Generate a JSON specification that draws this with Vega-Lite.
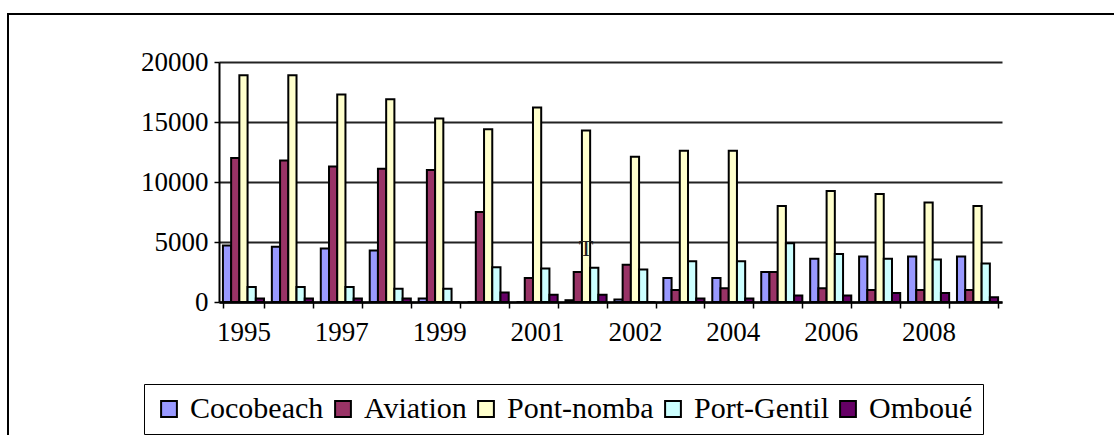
{
  "$schema": "https://vega.github.io/schema/vega-lite/v6.json",
  "autosize": "none",
  "width": 1110,
  "height": 425,
  "padding": {"left": 8, "top": 14, "right": 0, "bottom": 0},
  "background": "white",
  "config": {
    "view": {"stroke": "black", "strokeWidth": 2},
    "font": "Liberation Serif, Times New Roman, serif",
    "legend": {"labelFont": "Liberation Serif, Times New Roman, serif", "labelFontSize": 30, "labelColor": "black", "labelFontWeight": "normal"},
    "axis": {"labelFont": "Liberation Serif, Times New Roman, serif"},
    "text": {"font": "Liberation Serif, Times New Roman, serif"}
  },
  "datasets": {
    "bars": [
      {"year": "1995", "station": "Cocobeach", "value": 4700},
      {"year": "1995", "station": "Aviation", "value": 12000},
      {"year": "1995", "station": "Pont-nomba", "value": 18900},
      {"year": "1995", "station": "Port-Gentil", "value": 1250},
      {"year": "1995", "station": "Omboué", "value": 300},
      {"year": "1996", "station": "Cocobeach", "value": 4600},
      {"year": "1996", "station": "Aviation", "value": 11800},
      {"year": "1996", "station": "Pont-nomba", "value": 18900},
      {"year": "1996", "station": "Port-Gentil", "value": 1250},
      {"year": "1996", "station": "Omboué", "value": 300},
      {"year": "1997", "station": "Cocobeach", "value": 4450},
      {"year": "1997", "station": "Aviation", "value": 11300},
      {"year": "1997", "station": "Pont-nomba", "value": 17300},
      {"year": "1997", "station": "Port-Gentil", "value": 1250},
      {"year": "1997", "station": "Omboué", "value": 300},
      {"year": "1998", "station": "Cocobeach", "value": 4300},
      {"year": "1998", "station": "Aviation", "value": 11100},
      {"year": "1998", "station": "Pont-nomba", "value": 16900},
      {"year": "1998", "station": "Port-Gentil", "value": 1100},
      {"year": "1998", "station": "Omboué", "value": 300},
      {"year": "1999", "station": "Cocobeach", "value": 300},
      {"year": "1999", "station": "Aviation", "value": 11000},
      {"year": "1999", "station": "Pont-nomba", "value": 15300},
      {"year": "1999", "station": "Port-Gentil", "value": 1100},
      {"year": "1999", "station": "Omboué", "value": 0},
      {"year": "2000", "station": "Cocobeach", "value": 0},
      {"year": "2000", "station": "Aviation", "value": 7500},
      {"year": "2000", "station": "Pont-nomba", "value": 14400},
      {"year": "2000", "station": "Port-Gentil", "value": 2900},
      {"year": "2000", "station": "Omboué", "value": 800},
      {"year": "2001", "station": "Cocobeach", "value": 0},
      {"year": "2001", "station": "Aviation", "value": 2000},
      {"year": "2001", "station": "Pont-nomba", "value": 16200},
      {"year": "2001", "station": "Port-Gentil", "value": 2800},
      {"year": "2001", "station": "Omboué", "value": 600},
      {"year": "2001b", "station": "Cocobeach", "value": 150},
      {"year": "2001b", "station": "Aviation", "value": 2500},
      {"year": "2001b", "station": "Pont-nomba", "value": 14300},
      {"year": "2001b", "station": "Port-Gentil", "value": 2850},
      {"year": "2001b", "station": "Omboué", "value": 600},
      {"year": "2002", "station": "Cocobeach", "value": 200},
      {"year": "2002", "station": "Aviation", "value": 3100},
      {"year": "2002", "station": "Pont-nomba", "value": 12100},
      {"year": "2002", "station": "Port-Gentil", "value": 2700},
      {"year": "2002", "station": "Omboué", "value": 0},
      {"year": "2003", "station": "Cocobeach", "value": 2000},
      {"year": "2003", "station": "Aviation", "value": 1000},
      {"year": "2003", "station": "Pont-nomba", "value": 12600},
      {"year": "2003", "station": "Port-Gentil", "value": 3400},
      {"year": "2003", "station": "Omboué", "value": 300},
      {"year": "2004", "station": "Cocobeach", "value": 2000},
      {"year": "2004", "station": "Aviation", "value": 1150},
      {"year": "2004", "station": "Pont-nomba", "value": 12600},
      {"year": "2004", "station": "Port-Gentil", "value": 3400},
      {"year": "2004", "station": "Omboué", "value": 300},
      {"year": "2005", "station": "Cocobeach", "value": 2500},
      {"year": "2005", "station": "Aviation", "value": 2500},
      {"year": "2005", "station": "Pont-nomba", "value": 8000},
      {"year": "2005", "station": "Port-Gentil", "value": 4900},
      {"year": "2005", "station": "Omboué", "value": 550},
      {"year": "2006", "station": "Cocobeach", "value": 3600},
      {"year": "2006", "station": "Aviation", "value": 1150},
      {"year": "2006", "station": "Pont-nomba", "value": 9250},
      {"year": "2006", "station": "Port-Gentil", "value": 4000},
      {"year": "2006", "station": "Omboué", "value": 550},
      {"year": "2007", "station": "Cocobeach", "value": 3800},
      {"year": "2007", "station": "Aviation", "value": 1000},
      {"year": "2007", "station": "Pont-nomba", "value": 9000},
      {"year": "2007", "station": "Port-Gentil", "value": 3600},
      {"year": "2007", "station": "Omboué", "value": 750},
      {"year": "2008", "station": "Cocobeach", "value": 3800},
      {"year": "2008", "station": "Aviation", "value": 1000},
      {"year": "2008", "station": "Pont-nomba", "value": 8300},
      {"year": "2008", "station": "Port-Gentil", "value": 3550},
      {"year": "2008", "station": "Omboué", "value": 750},
      {"year": "2009", "station": "Cocobeach", "value": 3800},
      {"year": "2009", "station": "Aviation", "value": 1000},
      {"year": "2009", "station": "Pont-nomba", "value": 8000},
      {"year": "2009", "station": "Port-Gentil", "value": 3200},
      {"year": "2009", "station": "Omboué", "value": 400}
    ],
    "notes": [
      {"year": "2001b", "value": 4400, "note": "T"}
    ]
  },
  "encoding": {
    "x": {
      "field": "year",
      "type": "nominal",
      "sort": ["1995","1996","1997","1998","1999","2000","2001","2001b","2002","2003","2004","2005","2006","2007","2008","2009"],
      "scale": {"range": [211, 994], "paddingInner": 0.16, "paddingOuter": 0.08},
      "axis": {
        "orient": "bottom",
        "offset": -137,
        "title": null,
        "domainColor": "black",
        "domainWidth": 2.5,
        "tickColor": "black",
        "tickWidth": 1.5,
        "tickSize": 6,
        "tickBand": "extent",
        "labelAngle": 0,
        "labelFontSize": 27,
        "labelColor": "black",
        "labelPadding": 11,
        "labelExpr": "indexof(['1995','1997','1999','2001','2002','2004','2006','2008'], datum.value) >= 0 ? datum.label : ''"
      }
    },
    "y": {
      "field": "value",
      "type": "quantitative",
      "scale": {"domain": [0, 20000], "range": [288, 48], "nice": false},
      "axis": {
        "orient": "left",
        "offset": -211,
        "title": null,
        "values": [0, 5000, 10000, 15000, 20000],
        "format": "d",
        "grid": true,
        "gridColor": "#222222",
        "gridWidth": 2,
        "domainColor": "black",
        "domainWidth": 2,
        "tickColor": "black",
        "tickWidth": 1.5,
        "tickSize": 5,
        "labelFontSize": 27,
        "labelColor": "black",
        "labelPadding": 6
      }
    }
  },
  "layer": [
    {
      "data": {"name": "bars"},
      "mark": {"type": "bar", "stroke": "black", "strokeWidth": 2},
      "encoding": {
        "xOffset": {
          "field": "station",
          "sort": ["Cocobeach", "Aviation", "Pont-nomba", "Port-Gentil", "Omboué"],
          "scale": {"paddingInner": 0}
        },
        "color": {
          "field": "station",
          "type": "nominal",
          "sort": ["Cocobeach", "Aviation", "Pont-nomba", "Port-Gentil", "Omboué"],
          "scale": {
            "domain": ["Cocobeach", "Aviation", "Pont-nomba", "Port-Gentil", "Omboué"],
            "range": ["#9999FF", "#993366", "#FFFFCC", "#CCFFFF", "#660066"]
          },
          "legend": {
            "orient": "none",
            "legendX": 136,
            "legendY": 370,
            "direction": "horizontal",
            "columns": 5,
            "title": null,
            "labelFontSize": 30,
            "labelColor": "black",
            "labelLimit": 300,
            "labelOffset": 6,
            "columnPadding": 4,
            "symbolType": "square",
            "symbolSize": 250,
            "symbolStrokeColor": "black",
            "symbolStrokeWidth": 2,
            "symbolOpacity": 1,
            "padding": 10,
            "strokeColor": "black"
          }
        }
      }
    },
    {
      "data": {"name": "notes"},
      "mark": {"type": "text", "fontSize": 24, "color": "#222222", "baseline": "middle", "align": "center"},
      "encoding": {
        "text": {"field": "note"}
      }
    }
  ]
}
